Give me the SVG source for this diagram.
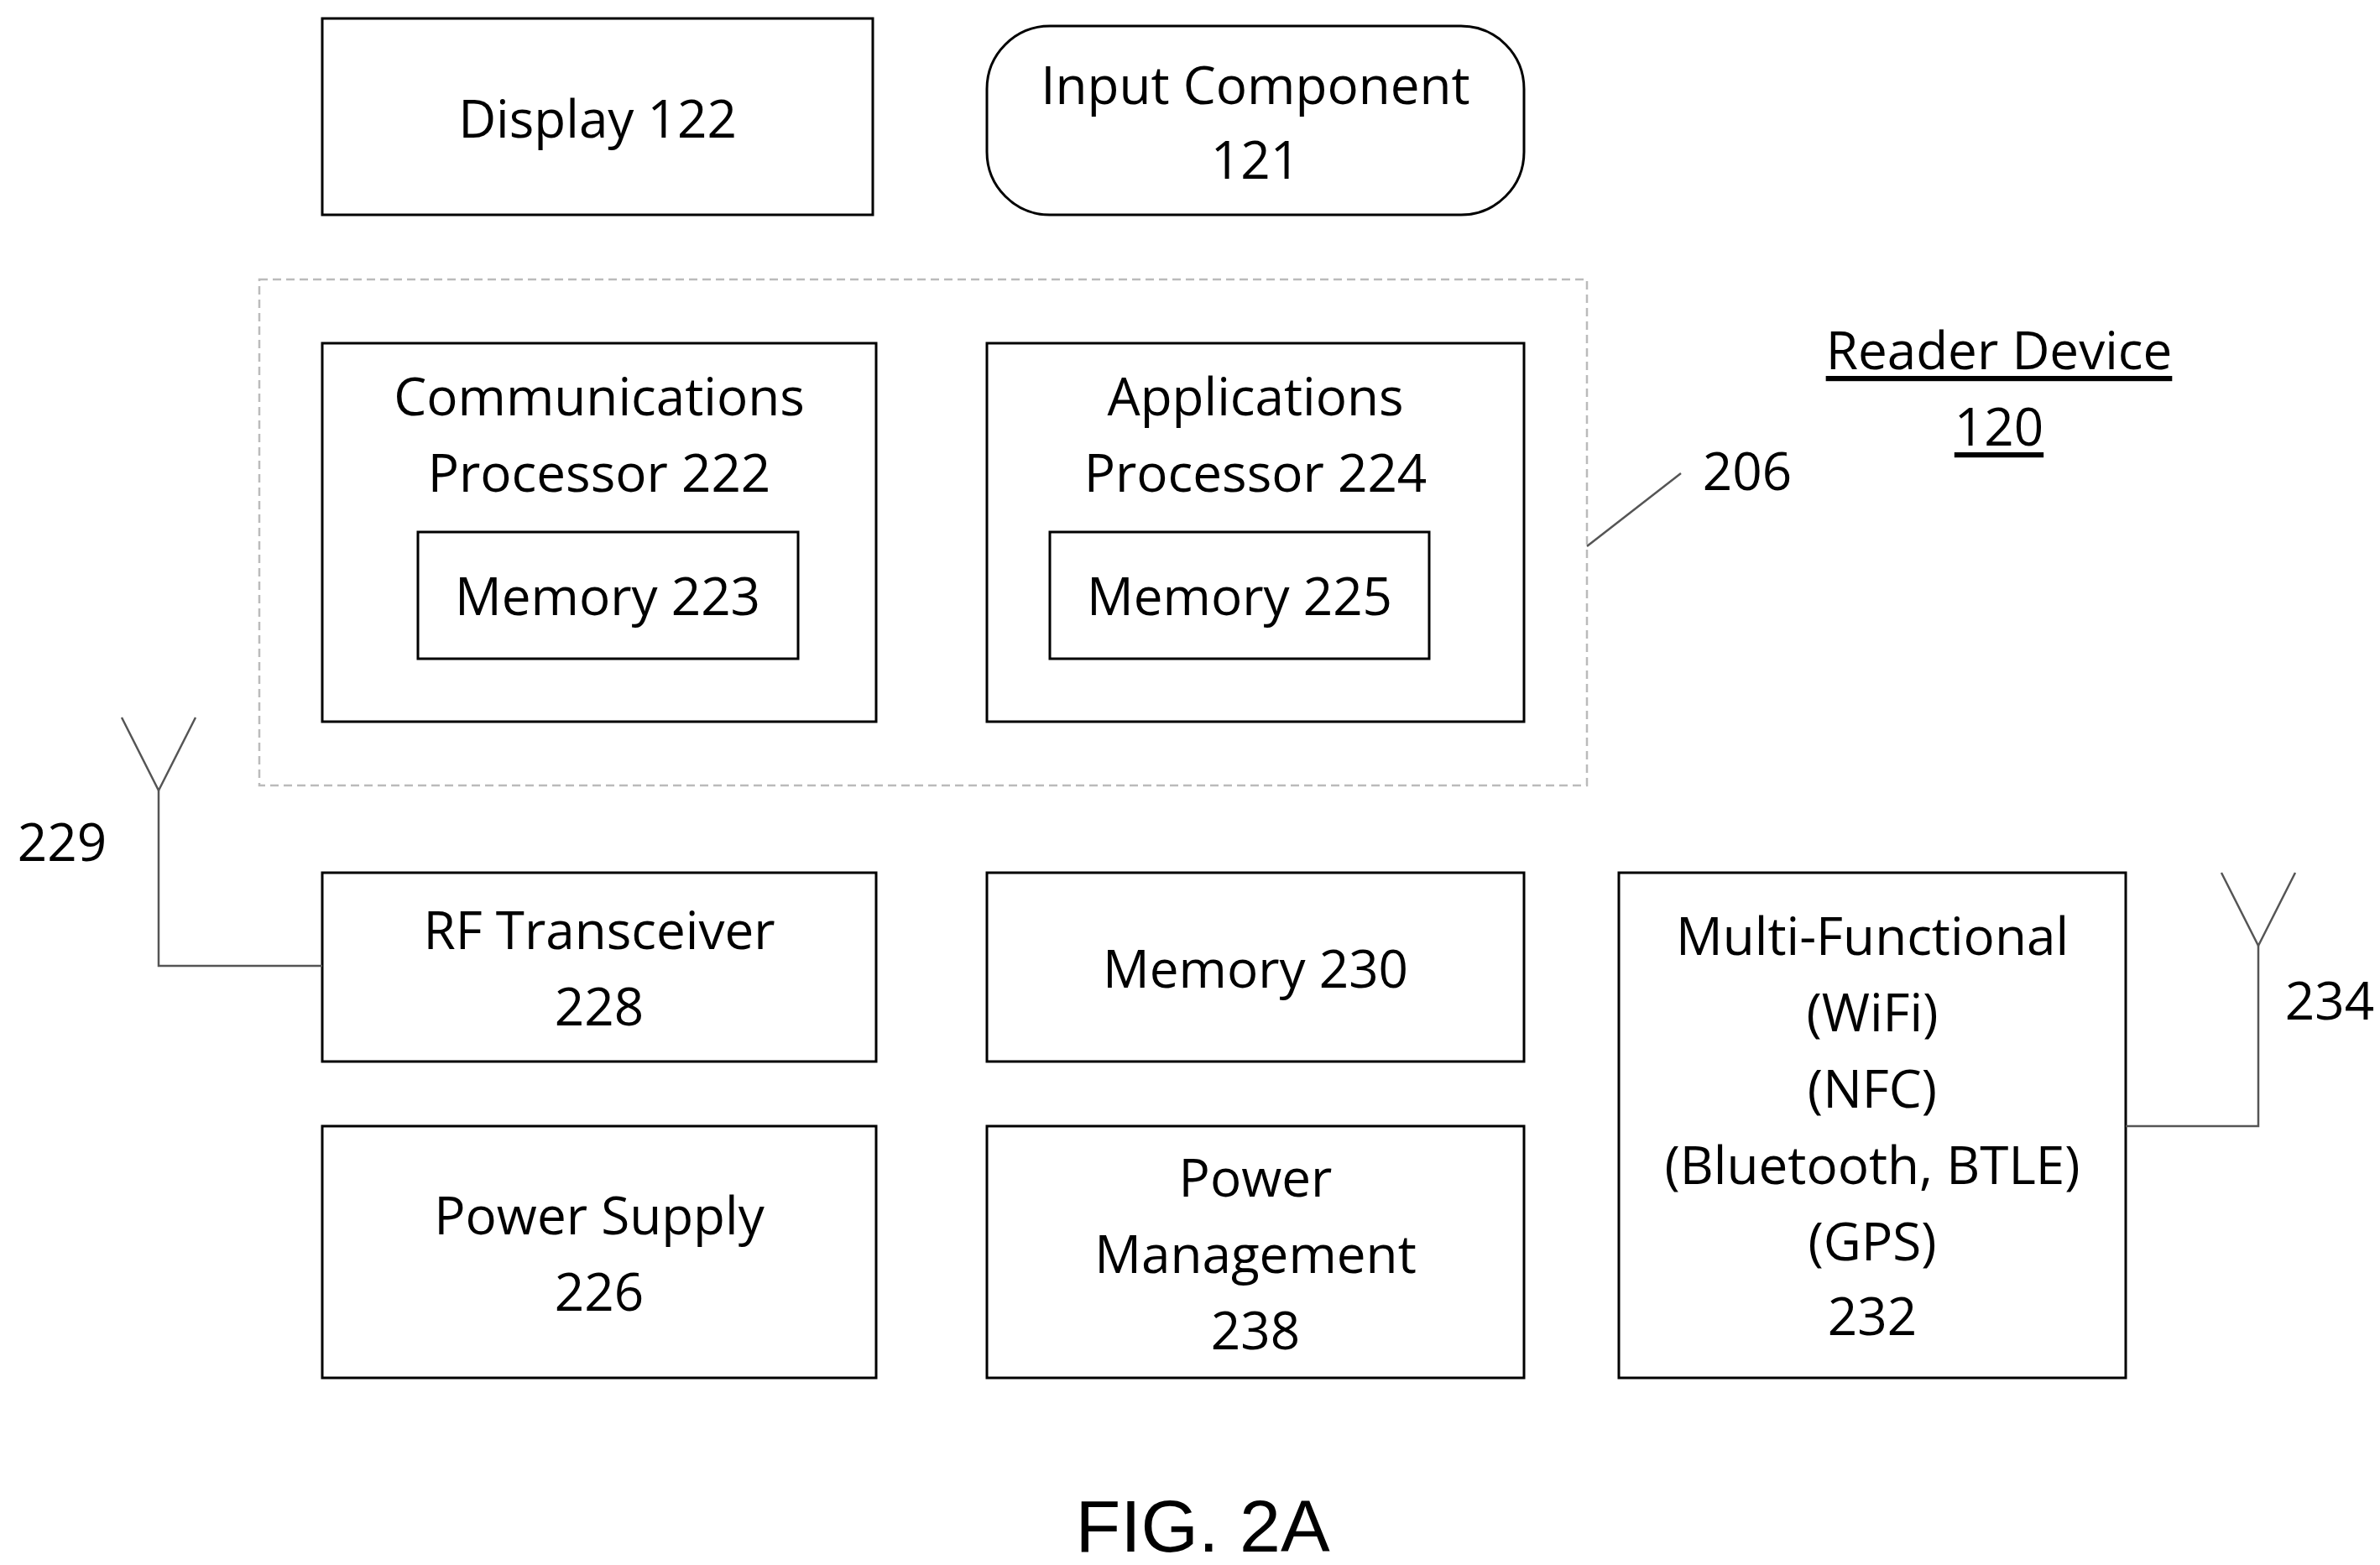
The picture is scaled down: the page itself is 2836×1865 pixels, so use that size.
<svg xmlns="http://www.w3.org/2000/svg" width="2836" height="1865" viewBox="0 0 2836 1865">
<style>
.b{fill:#fff;stroke:#000;stroke-width:3}
.t{font-family:"Open Sans","Liberation Sans",sans-serif;font-size:62px;text-anchor:middle;dominant-baseline:central;fill:#000}
.u{text-decoration:underline}
.l2{fill:none;stroke:#555;stroke-width:2.5}
</style>
<rect width="2836" height="1865" fill="#fff"/>
<g id="group206"><rect x="309" y="333" width="1582" height="603" fill="none" stroke="#bbb" stroke-width="2.5" stroke-dasharray="10,6"/></g>
<g id="display122"><rect class="b" x="384" y="22" width="656" height="234"/><text class="t" x="712" y="140">Display 122</text></g>
<g id="input121"><rect class="b" x="1176" y="31" width="640" height="225" rx="75"/><text class="t" x="1496" y="100">Input Component</text><text class="t" x="1496" y="189">121</text></g>
<g id="comm222"><rect class="b" x="384" y="409" width="660" height="451"/><text class="t" x="714" y="471">Communications</text><text class="t" x="714" y="562">Processor 222</text></g>
<g id="mem223"><rect class="b" x="498" y="634" width="453" height="151"/><text class="t" x="724" y="709">Memory 223</text></g>
<g id="app224"><rect class="b" x="1176" y="409" width="640" height="451"/><text class="t" x="1496" y="471">Applications</text><text class="t" x="1496" y="562">Processor 224</text></g>
<g id="mem225"><rect class="b" x="1251" y="634" width="452" height="151"/><text class="t" x="1477" y="709">Memory 225</text></g>
<g id="reader120"><text class="t u" x="2382" y="416">Reader Device</text><text class="t u" x="2382" y="507">120</text></g>
<g id="rf228"><rect class="b" x="384" y="1040" width="660" height="225"/><text class="t" x="714" y="1107">RF Transceiver</text><text class="t" x="714" y="1198">228</text></g>
<g id="mem230"><rect class="b" x="1176" y="1040" width="640" height="225"/><text class="t" x="1496" y="1153">Memory 230</text></g>
<g id="multi232"><rect class="b" x="1929" y="1040" width="604" height="602"/><text class="t" x="2231" y="1114">Multi-Functional</text><text class="t" x="2231" y="1205">(WiFi)</text><text class="t" x="2231" y="1296">(NFC)</text><text class="t" x="2231" y="1387">(Bluetooth, BTLE)</text><text class="t" x="2231" y="1478">(GPS)</text><text class="t" x="2231" y="1567">232</text></g>
<g id="power226"><rect class="b" x="384" y="1342" width="660" height="300"/><text class="t" x="714" y="1447">Power Supply</text><text class="t" x="714" y="1538">226</text></g>
<g id="power238"><rect class="b" x="1176" y="1342" width="640" height="300"/><text class="t" x="1496" y="1402">Power</text><text class="t" x="1496" y="1493">Management</text><text class="t" x="1496" y="1584">238</text></g>
<g id="antenna229"><text class="t" x="74" y="1002">229</text></g>
<g id="antenna234"><text class="t" x="2776" y="1191">234</text></g>
<g id="connectors">
<polyline class="l2" points="189,942 189,1151 384,1151"/>
<polyline class="l2" points="145,855 189,942 233,855"/>
<polyline class="l2" points="2533,1342 2691,1342 2691,1127"/>
<polyline class="l2" points="2647,1040 2691,1127 2735,1040"/>
<line class="l2" x1="1891" y1="651" x2="2003" y2="564"/>
</g>
<text class="t" x="2082" y="560">206</text>
<text x="1433" y="1818" font-family="Liberation Sans Narrow,Liberation Sans,sans-serif" font-size="88" text-anchor="middle" dominant-baseline="central" fill="#000">FIG. 2A</text>
</svg>
